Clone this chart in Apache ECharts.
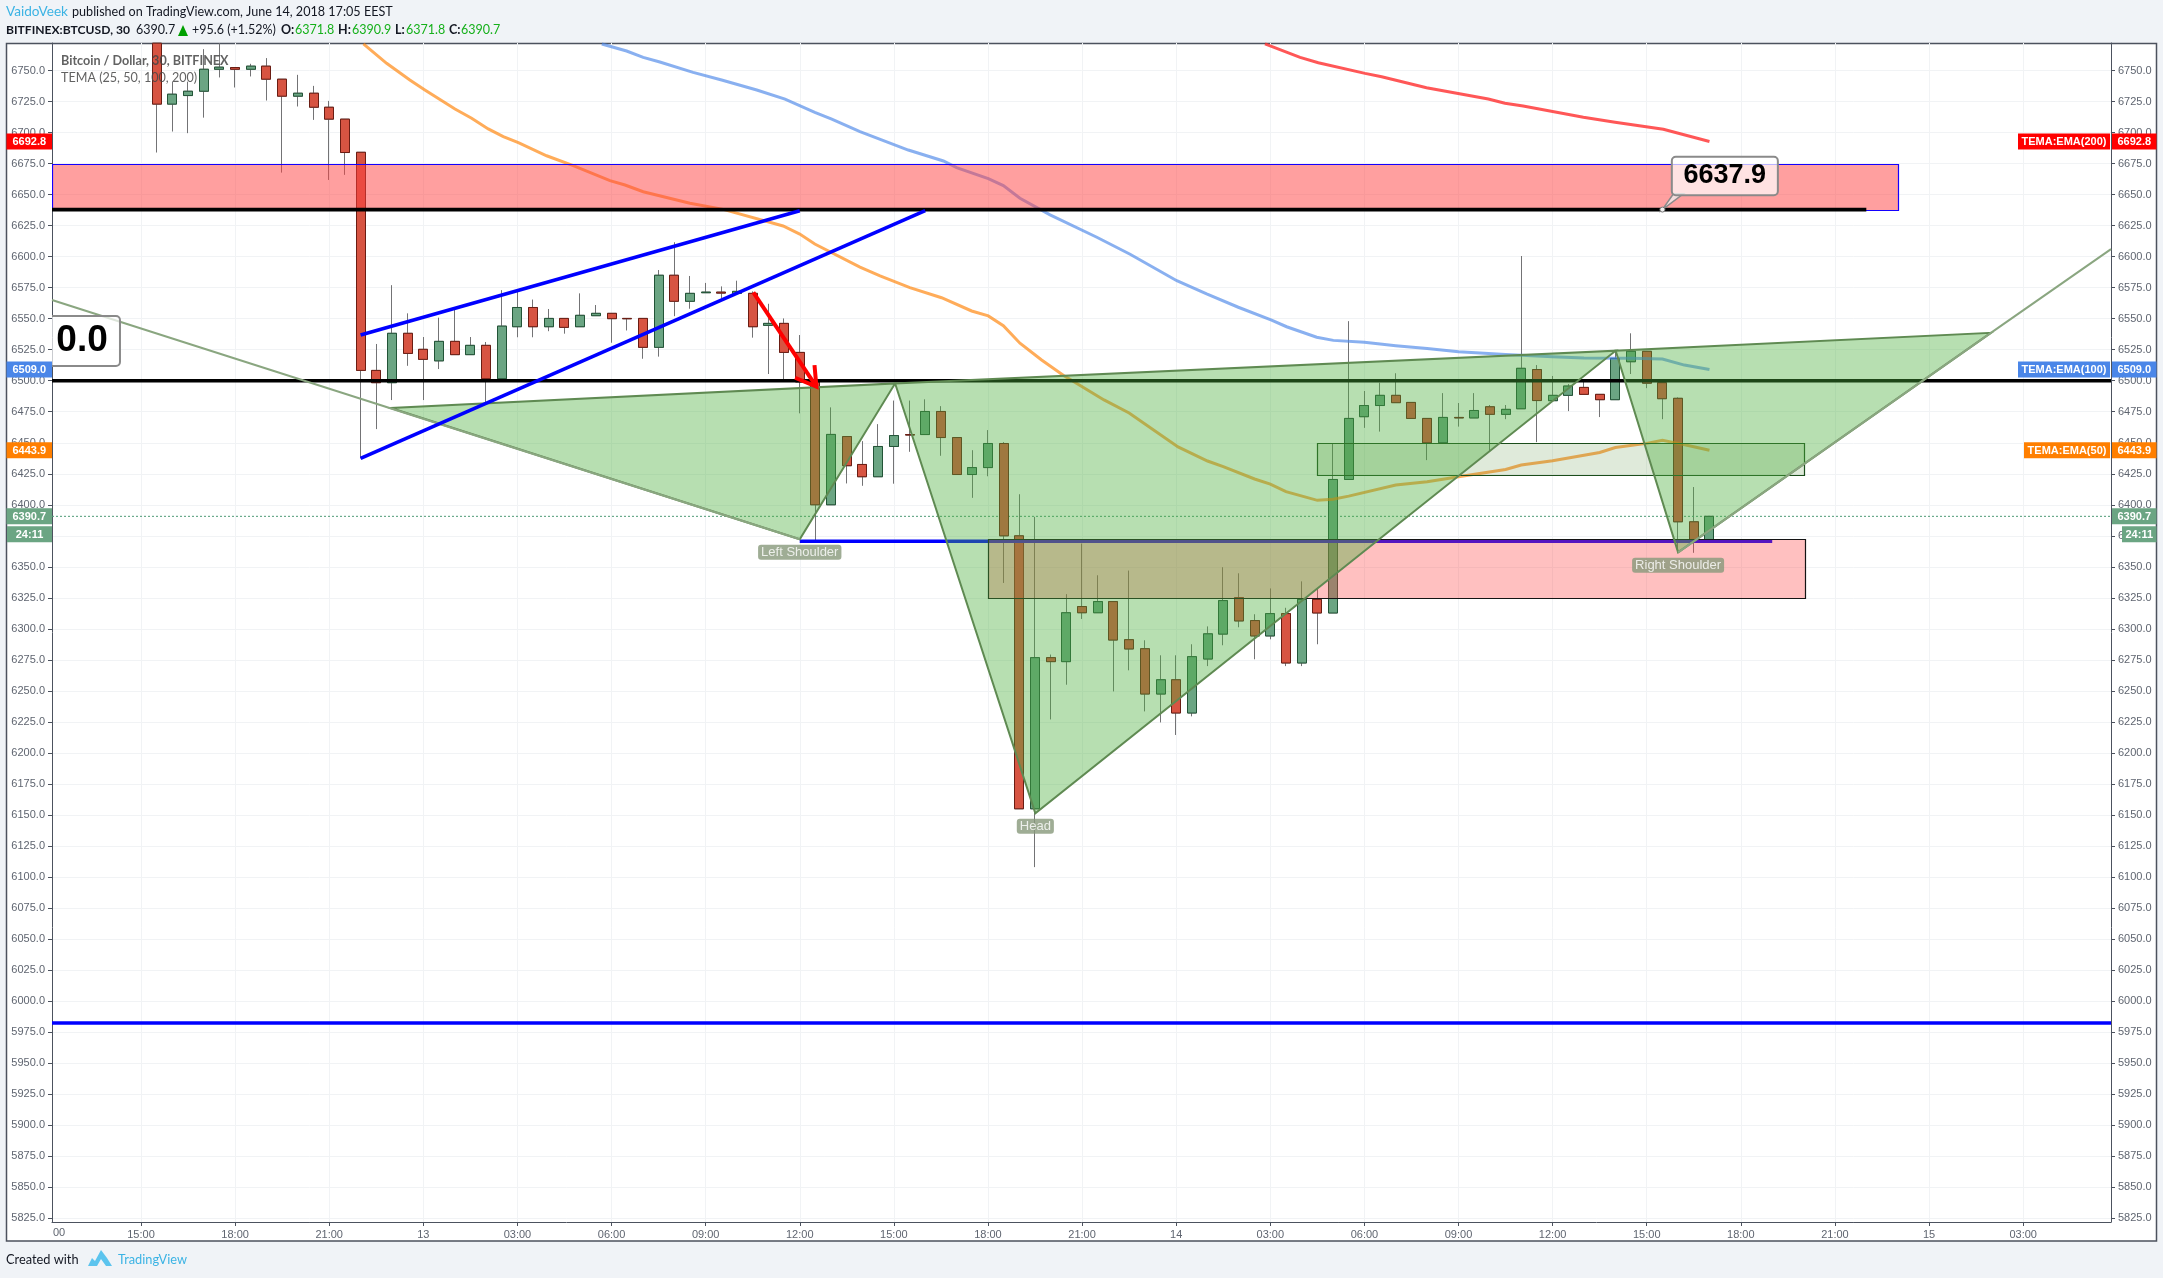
<!DOCTYPE html>
<html><head><meta charset="utf-8">
<style>html,body{margin:0;padding:0;background:#f0f3f7}#c{width:2163px;height:1278px}</style>
<script src="https://cdn.jsdelivr.net/npm/echarts@6/dist/echarts.min.js"></script>
</head><body><div id="c"></div>
<script>
// ---------- axis data ----------
const xTickHours=[15,18,21,24,27,30,33,36,39,42,45,48,51,54,57,60,63,66,69,72,75];
const xTickLabels=['15:00','18:00','21:00','13','03:00','06:00','09:00','12:00','15:00','18:00','21:00','14','03:00','06:00','09:00','12:00','15:00','18:00','21:00','15','03:00'];
const yTicks=[5825,5850,5875,5900,5925,5950,5975,6000,6025,6050,6075,6100,6125,6150,6175,6200,6225,6250,6275,6300,6325,6350,6375,6400,6425,6450,6475,6500,6525,6550,6575,6600,6625,6650,6675,6700,6725,6750];
const xMin=12.163,xMax=77.8,yMin=5822,yMax=6772.16;
// ---------- candles (hours since 12 June 00:00) ----------
const candleHours=[15.5,16,16.5,17,17.5,18,18.5,19,19.5,20,20.5,21,21.5,22,22.5,23,23.5,24,24.5,25,25.5,26,26.5,27,27.5,28,28.5,29,29.5,30,30.5,31,31.5,32,32.5,33,33.5,34,34.5,35,35.5,36,36.5,37,37.5,38,38.5,39,39.5,40,40.5,41,41.5,42,42.5,43,43.5,44,44.5,45,45.5,46,46.5,47,47.5,48,48.5,49,49.5,50,50.5,51,51.5,52,52.5,53,53.5,54,54.5,55,55.5,56,56.5,57,57.5,58,58.5,59,59.5,60,60.5,61,61.5,62,62.5,63,63.5,64,64.5,65];
const candleOpen=[6772,6722.9,6729.8,6733.3,6751,6752.4,6751,6753.5,6743,6729.3,6731.7,6720.4,6710.8,6684.1,6508.3,6498.4,6538.2,6525.3,6516,6531.7,6521,6528.5,6501.6,6543.5,6559,6543.5,6550.2,6543.5,6552.4,6554.3,6550.2,6550.2,6526.9,6585,6564,6570.9,6571.4,6570.4,6570.4,6544.6,6546.2,6522.8,6499,6400,6455,6432.5,6422.6,6447,6456.6,6456.6,6475.2,6454.2,6424.4,6430,6449.4,6375,6155,6276.8,6273.6,6318,6313,6322,6291.3,6284,6247.5,6259,6232.2,6275.7,6295.8,6325.2,6306.7,6294.3,6312.3,6272.5,6323.8,6312.8,6420.4,6471,6480,6488.2,6482.5,6469.6,6450,6470.4,6470,6479,6472.9,6477.4,6509,6483.9,6488.2,6494.6,6489,6484.7,6515.3,6523.7,6498.4,6485.8,6386.3,6371.8];
const candleClose=[6722.9,6730.9,6733.3,6751,6752.7,6751,6753.5,6743,6729.3,6731.7,6720.4,6710.8,6683.9,6508.3,6498.4,6538.2,6522,6517.2,6531.7,6521,6528.5,6501.6,6544,6559,6543.5,6550.2,6543,6552.7,6554.3,6550,6549.9,6526.9,6585,6564,6570.4,6571.4,6570.6,6572,6543.5,6546.2,6522.8,6499,6400,6456.7,6431.5,6422.6,6447,6455.8,6456.2,6475.2,6454.2,6424.4,6430,6449.4,6375,6155,6276.8,6273.6,6313,6313,6322,6291,6283.8,6247.5,6259,6232.2,6277.6,6296,6322.8,6306.4,6294.3,6312.3,6272.5,6323.8,6312.8,6420.4,6469.6,6480,6488.2,6482.3,6469.6,6450,6470.4,6470,6476,6472.9,6476.9,6510,6484,6488.2,6495.7,6489,6484.7,6518,6523.7,6498,6485.5,6386.3,6371.5,6390.7];
const candleHigh=[6772,6741,6741,6767.2,6772,6752.4,6755.4,6760,6743,6746.5,6737.6,6725.5,6710.8,6684.1,6529.6,6577,6554.3,6535.2,6550.8,6559,6535.2,6531.2,6573,6571.8,6565.4,6557.8,6550.2,6570.4,6561,6554.3,6550.2,6550.2,6589.2,6611.6,6584.4,6578.8,6576,6580.6,6572,6562,6550.2,6536.8,6499,6478.5,6455,6451.3,6465,6484,6484,6485,6479.5,6454.2,6444,6460.2,6450.5,6408.5,6390.3,6279.3,6328,6368.8,6343.2,6322,6347,6290.8,6278.7,6278.7,6287.6,6302,6349.7,6344.8,6311.8,6332.6,6317,6338.3,6332.4,6449.5,6548,6491.7,6498.4,6506,6482.5,6469.6,6490,6482,6490,6480.4,6480.4,6600.5,6512.6,6503.8,6497.3,6500.5,6489,6524.2,6538.2,6523.7,6498.4,6486.6,6414.3,6390.9];
const candleLow=[6683.9,6700.8,6699.5,6712,6744.4,6736.3,6745.2,6725.8,6667.7,6721,6710.2,6661.8,6665.9,6437.4,6461,6484.4,6512,6484.4,6509.4,6521,6521,6481.7,6501.6,6535,6535,6539.9,6537.9,6543.5,6552.4,6530.6,6540.5,6517.7,6519.4,6552,6558,6570.9,6566.4,6570.4,6534.7,6505.4,6501.3,6473.7,6371.5,6400,6417.2,6415.3,6422.6,6417,6442.7,6456.6,6439.5,6424.4,6405.6,6423,6337,6155,6108,6227,6255,6308,6313,6249.6,6266.6,6233.5,6224.6,6214.5,6229.5,6270,6286.8,6301.3,6275.5,6291.6,6270,6270,6287.6,6312.8,6420.4,6462,6459,6482.3,6469.6,6436,6450,6463,6470,6442.7,6469,6477.4,6450.5,6483.9,6475.5,6489,6470.7,6484.7,6505.4,6494,6469,6363,6361.3,6371.8];
// ---------- TEMA lines ----------
const temaOrange=[[22.09,6771.4],[22.83,6755.8],[23.57,6742.3],[24.05,6734.3],[25.01,6719],[25.54,6711.5],[26.07,6702.9],[26.55,6696.7],[27.03,6691.8],[27.93,6681.3],[28.78,6673.3],[29.95,6661.2],[30.43,6657.7],[31.01,6652.3],[32.5,6643],[33.56,6638.1],[35.47,6624.7],[36,6618.2],[36.48,6610.2],[37.92,6591.6],[38.56,6584.4],[39.51,6575],[40.52,6566.9],[41.48,6556.2],[42.01,6552.2],[42.49,6544.3],[43.02,6530.2],[43.71,6516.7],[44.4,6504.4],[45.7,6484.5],[46.5,6474],[48.06,6446.6],[49,6435.3],[49.5,6430.7],[50.5,6420.8],[51,6416.7],[51.5,6410.6],[52.5,6403.6],[53,6404.5],[53.5,6407],[55,6415.9],[56,6418.6],[57,6422.6],[58.5,6428.5],[59,6432],[60,6435.5],[61.5,6442.2],[62,6446.2],[63,6449.5],[63.5,6452],[64,6449.5],[64.5,6446.8],[65,6443.9]];
const temaBlue=[[29.69,6771.4],[30.48,6765.7],[31.01,6760.6],[31.54,6756.8],[32.6,6748.5],[33.51,6742.3],[34.63,6734.3],[35.53,6727],[36.48,6716.3],[37.02,6710.9],[37.92,6700.7],[39.46,6685.9],[40.58,6677.1],[41,6671.7],[42.01,6662.8],[42.49,6657.2],[43.02,6647],[43.98,6633.6],[45.47,6615.6],[46.53,6601.9],[48.02,6580.6],[48.97,6569.9],[49.98,6559.2],[51.04,6548.9],[51.52,6543.5],[52.48,6535],[53.01,6532.5],[54,6530.9],[55,6528.2],[56,6526],[57,6523.4],[58.5,6521.2],[60,6519.4],[61,6518.3],[62.5,6518],[63.5,6517.5],[64.2,6512.6],[65,6509]];
const temaRed=[[50.83,6771.4],[51.95,6760.6],[52.53,6756.3],[54.02,6747.7],[54.55,6745],[55.98,6736.1],[57.95,6727],[58.48,6723.6],[59.06,6721.4],[60.98,6712.3],[61.99,6708.3],[63.53,6702.6],[65,6692.8]];
// ---------- drawings ----------
const blackUpper=[[xMin,6637.9],[70,6637.9]];
const blackMiddle=[[xMin,6500],[xMax,6500]];
const blueMiddle=[[36,6370.6],[67,6370.6]];
const blueLower=[[xMin,5982.4],[xMax,5982.4]];
const lastPriceLine=[[xMin,6390.7],[xMax,6390.7]];
const channelUpper=[[22,6536.8],[36,6637]];
const channelLower=[[22,6437.4],[40,6637]];
const arrowShaft=[[34.52,6571.2],[36.53,6495.2]];
const arrowHead=[[35.85,6502.4],[36.53,6495.2],[36.47,6512.6]];
const extLeft=[[xMin,6565],[36,6372.2]];
const extRight=[[64,6361.7],[73.97,6538.6],[xMax,6606]];
const patternPolygons=[[22.96,6478,36,6372.2,39.04,6497.8],[39.04,6497.8,43.51,6151.4,62.01,6524.2],[62.01,6524.2,64,6361.7,73.97,6538.6]];
const zoneRects=[[xMin,6674.4,71,6637],[42,6372.2,68.03,6324.7],[52.5,6449.6,68.03,6423.8]];
const zoneFills=['rgba(255,64,64,0.5)','rgba(255,64,64,0.33)','rgba(76,140,50,0.18)'];
const zoneStrokes=['#1400ff','#141414','#1b4d1b'];
const patternLabels=[{name:'Left Shoulder',value:[36,6372.2]},{name:'Head',value:[43.51,6151.4]},{name:'Right Shoulder',value:[64,6361.7]}];
const calloutBoxes=[[63.8,6680.5,67.18,6649.4],[11.4,6552.2,14.33,6511.9]];
const calloutTextPos=[[65.49,6664.95],[13.12,6532]];
const calloutTexts=['6637.9','0.0'];
const calloutFonts=[27,37];
const calloutAnchor=[63.5,6637.9];
// ---------- price tags ----------
const tagPrices=[6692.8,6509,6443.9,6390.7];
const tagLabels=['6692.8','6509.0','6443.9','6390.7'];
const tagNames=['TEMA:EMA(200)','TEMA:EMA(100)','TEMA:EMA(50)',''];
const tagColors=['#ff0000','#4a86e8','#ff7f00','#6ba583'];
const countdownText='24:11';

const FONT='"Liberation Sans",Arial,sans-serif';
const HEAD='Lato,"Open Sans",sans-serif';
const el=document.getElementById('c');
const chart=echarts.init(el,null,{renderer:'canvas',width:2163,height:1278});

function line(name,data,color,width,z,extra){
  return Object.assign({type:'line',name,data,z,silent:true,animation:false,showSymbol:false,symbol:'none',
    clip:true,lineStyle:{color,width,cap:'butt',join:'miter'},itemStyle:{color},emphasis:{disabled:true}},extra||{});
}

const wickData=candleHours.map((h,i)=>[h,candleOpen[i],candleClose[i],candleLow[i],candleHigh[i]]);
const bodyData=candleHours.map((h,i)=>{const a=Math.min(candleOpen[i],candleClose[i]),b=Math.max(candleOpen[i],candleClose[i]);return [h,candleOpen[i],candleClose[i],a,b];});

const option={
  backgroundColor:'#f0f3f7',animation:false,
  grid:{left:52,top:43,width:2059,height:1179,containLabel:false,show:false},
  xAxis:{type:'value',min:xMin,max:xMax,position:'bottom',
    axisLine:{show:true,onZero:false,lineStyle:{color:'#4c525e',width:1}},
    axisTick:{show:true,length:4,customValues:xTickHours,lineStyle:{color:'#4c525e'}},
    axisLabel:{show:true,customValues:xTickHours,color:'#5f6570',fontSize:11,fontFamily:FONT,margin:7,hideOverlap:false,
      formatter:v=>{const i=xTickHours.indexOf(v);return i>=0?xTickLabels[i]:'';}},
    splitLine:{show:true,lineStyle:{color:'#f1f3f5',width:1}}},
  yAxis:[
    {type:'value',min:yMin,max:yMax,position:'left',
     axisLine:{show:true,onZero:false,lineStyle:{color:'#4c525e'}},
     axisTick:{show:true,length:4,customValues:yTicks,lineStyle:{color:'#4c525e'}},
     axisLabel:{customValues:yTicks,color:'#5f6570',fontSize:11,fontFamily:FONT,margin:7,padding:[2,0,0,0],formatter:v=>v.toFixed(1)},
     splitLine:{show:true,lineStyle:{color:'#f1f3f5',width:1}}},
    {type:'value',min:yMin,max:yMax,position:'right',
     axisLine:{show:true,onZero:false,lineStyle:{color:'#4c525e'}},
     axisTick:{show:true,length:4,customValues:yTicks,lineStyle:{color:'#4c525e'}},
     axisLabel:{customValues:yTicks,color:'#5f6570',fontSize:11,fontFamily:FONT,margin:7,padding:[2,0,0,0],formatter:v=>v.toFixed(1)},
     splitLine:{show:false}}
  ],
  series:[
    {type:'candlestick',name:'wicks',data:wickData,z:2,barWidth:9.5,silent:true,animation:false,clip:true,
     itemStyle:{color:'#737375',color0:'#737375',borderColor:'#737375',borderColor0:'#737375',borderWidth:1}},
    {type:'candlestick',name:'BTCUSD',data:bodyData,z:3,barWidth:9.5,silent:true,animation:false,clip:true,
     itemStyle:{color:'#6ba583',color0:'#d75442',borderColor:'#225437',borderColor0:'#6b1d13',borderWidth:1}},
    line('last',lastPriceLine,'#6ba583',1,3,{lineStyle:{color:'#4f9a76',width:1,type:[2,2]}}),
    line('TEMA EMA(200)',temaRed,'rgba(255,50,50,0.82)',3,4),
    line('TEMA EMA(100)',temaBlue,'rgba(74,134,232,0.65)',3,4),
    line('TEMA EMA(50)',temaOrange,'rgba(255,127,0,0.65)',3,4),
    line('black middle',blackMiddle,'#000',3.6,5),
    line('blue middle',blueMiddle,'#0000ff',3.4,5),
    line('blue lower',blueLower,'#0000ff',3.4,5),
    {type:'custom',name:'zones',z:6,silent:true,animation:false,clip:true,
     data:zoneRects,encode:{x:0,y:1},
     renderItem(params,api){
       const a=api.coord([api.value(0),api.value(1)]),b=api.coord([api.value(2),api.value(3)]);
       return {type:'rect',shape:{x:Math.round(a[0])+.5,y:Math.round(a[1])+.5,width:Math.round(b[0]-a[0]),height:Math.round(b[1]-a[1])},
         style:{fill:zoneFills[params.dataIndex],stroke:zoneStrokes[params.dataIndex],lineWidth:1.2}};
     }},
    line('extension left',extLeft,'#8aa680',2,7),
    line('extension right',extRight,'#8aa680',2,7),
    {type:'custom',name:'pattern',z:7,silent:true,animation:false,clip:true,
     data:patternPolygons,encode:{x:0,y:1},
     renderItem(params,api){
       const pts=[];for(let k=0;k<6;k+=2)pts.push(api.coord([api.value(k),api.value(k+1)]));
       return {type:'polygon',shape:{points:pts},style:{fill:'rgba(76,175,60,0.4)',stroke:'#5f8a52',lineWidth:2}};
     }},
    line('black upper',blackUpper,'#000',3.6,8),
    line('channel upper',channelUpper,'#0000ff',3.6,8),
    line('channel lower',channelLower,'#0000ff',3.6,8),
    line('arrow shaft',arrowShaft,'#ff0000',4,8),
    line('arrow head',arrowHead,'#ff0000',4,8),
    {type:'scatter',name:'pattern labels',z:9,silent:true,animation:false,symbolSize:1,itemStyle:{color:'rgba(0,0,0,0)'},data:patternLabels,
     label:{show:true,position:'bottom',distance:5,formatter:'{b}',color:'#fff',fontFamily:FONT,fontSize:13,
       backgroundColor:'#87987a',padding:[1,3],borderRadius:3}},
    {type:'custom',name:'callouts',z:9,silent:true,animation:false,clip:true,
     data:calloutBoxes,encode:{x:0,y:1},
     renderItem(params,api){
       const i=params.dataIndex;
       const a=api.coord([api.value(0),api.value(1)]),b=api.coord([api.value(2),api.value(3)]);
       const t=api.coord(calloutTextPos[i]);
       const kids=[];
       if(i===0){
         const c=api.coord(calloutAnchor);
         kids.push({type:'polygon',shape:{points:[[c[0]+11,a[1]+37],[c[0]+21,a[1]+37],[c[0],c[1]]]},style:{fill:'#f3dcdc',stroke:'#8a8a8a',lineWidth:1.5}});
         kids.push({type:'circle',shape:{cx:c[0],cy:c[1],r:2.5},style:{fill:'#eee',stroke:'#777',lineWidth:1}});
       }
       kids.push({type:'rect',shape:{x:a[0],y:a[1],width:b[0]-a[0],height:b[1]-a[1],r:4},
         style:{fill:'rgba(255,255,255,0.7)',stroke:'#8a8a8a',lineWidth:2}});
       kids.push({type:'text',style:{text:calloutTexts[i],x:t[0],y:t[1],align:'center',verticalAlign:'middle',fill:'#000',
         font:'bold '+calloutFonts[i]+'px '+FONT}});
       return {type:'group',children:kids};
     }},
    {type:'custom',name:'price tags',z:10,silent:true,animation:false,clip:false,
     data:tagPrices.map(p=>[xMin,p]),encode:{x:0,y:1},
     renderItem(params,api){
       const i=params.dataIndex,cs=params.coordSys;
       const y=api.coord([xMin,api.value(1)])[1];
       const col=tagColors[i],L=cs.x,R=cs.x+cs.width;
       const box=(x,yy,w,txt)=>[
         {type:'rect',shape:{x,y:yy-8,width:w,height:16},style:{fill:col}},
         {type:'text',style:{text:txt,x:x+w/2,y:yy+.5,align:'center',verticalAlign:'middle',fill:'#fff',font:'bold 11px '+FONT}}];
       let kids=[...box(6.5,y,L-6.5,tagLabels[i]),...box(R+1,y,44.5,tagLabels[i])];
       if(tagNames[i]){
         const w=tagNames[i].length>12?92:86;
         kids=kids.concat(box(R-1-w,y,w,tagNames[i]));
       } else {
         kids=kids.concat(box(7,y+18,L-7,countdownText),box(R+11,y+18,34.5,countdownText));
       }
       return {type:'group',children:kids};
     }}
  ],
  graphic:[
    {type:'rect',z:-100,shape:{x:6.5,y:43.5,width:2150,height:1197.5},style:{fill:'#fff',stroke:'#4c525e',lineWidth:1.5}},
    {type:'rect',z:50,shape:{x:8,y:1223,width:43,height:17},style:{fill:'#fff'}},
    {type:'rect',z:50,shape:{x:2112,y:1223,width:43,height:17},style:{fill:'#fff'}},
    {type:'text',z:50,style:{text:'00',x:53,y:1233,verticalAlign:'middle',fill:'#5f6570',font:'11px '+FONT}},
    {type:'text',style:{text:'VaidoVeek',x:6,y:11.5,verticalAlign:'middle',fill:'#3bb3e4',font:'13.6px '+HEAD}},
    {type:'text',style:{text:'published on TradingView.com, June 14, 2018 17:05 EEST',x:72,y:11.5,verticalAlign:'middle',fill:'#131722',font:'12.6px '+HEAD}},
    {type:'text',style:{text:'BITFINEX:BTCUSD, 30',x:6,y:30,verticalAlign:'middle',fill:'#131722',font:'bold 12.1px '+HEAD}},
    {type:'text',style:{text:'6390.7',x:136,y:30,verticalAlign:'middle',fill:'#131722',font:'12.5px '+HEAD}},
    {type:'polygon',shape:{points:[[183,25],[178,36],[188,36]]},style:{fill:'#00a000'}},
    {type:'text',style:{text:'+95.6 (+1.52%)',x:192,y:30,verticalAlign:'middle',fill:'#131722',font:'12.5px '+HEAD}},
    {type:'text',style:{text:'O:',x:281,y:30,verticalAlign:'middle',fill:'#131722',font:'bold 12.5px '+HEAD}},
    {type:'text',style:{text:'6371.8',x:295,y:30,verticalAlign:'middle',fill:'#15b01a',font:'12.5px '+HEAD}},
    {type:'text',style:{text:'H:',x:338,y:30,verticalAlign:'middle',fill:'#131722',font:'bold 12.5px '+HEAD}},
    {type:'text',style:{text:'6390.9',x:352,y:30,verticalAlign:'middle',fill:'#15b01a',font:'12.5px '+HEAD}},
    {type:'text',style:{text:'L:',x:395,y:30,verticalAlign:'middle',fill:'#131722',font:'bold 12.5px '+HEAD}},
    {type:'text',style:{text:'6371.8',x:406,y:30,verticalAlign:'middle',fill:'#15b01a',font:'12.5px '+HEAD}},
    {type:'text',style:{text:'C:',x:449,y:30,verticalAlign:'middle',fill:'#131722',font:'bold 12.5px '+HEAD}},
    {type:'text',style:{text:'6390.7',x:461,y:30,verticalAlign:'middle',fill:'#15b01a',font:'12.5px '+HEAD}},
    {type:'text',z:20,style:{text:'Bitcoin / Dollar, 30, BITFINEX',x:61,y:61,verticalAlign:'middle',fill:'rgba(70,70,70,0.85)',font:'bold 12.6px '+HEAD}},
    {type:'text',z:20,style:{text:'TEMA (25, 50, 100, 200)',x:61,y:77.5,verticalAlign:'middle',fill:'rgba(70,70,70,0.85)',font:'12.6px '+HEAD}},
    {type:'text',style:{text:'Created with',x:6,y:1260,verticalAlign:'middle',fill:'#131722',font:'12.8px '+HEAD}},
    {type:'polygon',shape:{points:[[88,1266],[92,1258],[95,1261],[101,1250],[107,1258],[112,1266],[106,1266],[101,1259],[97,1266]]},style:{fill:'#5cc4ee'}},
    {type:'text',style:{text:'TradingView',x:118,y:1260,verticalAlign:'middle',fill:'#3bb3e4',font:'12.8px '+HEAD}}
  ]
};
chart.setOption(option);
</script></body></html>
